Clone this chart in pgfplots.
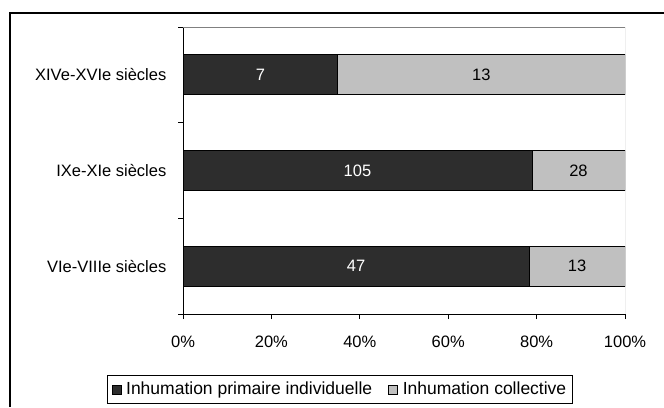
\documentclass[border=0pt]{standalone}
\usepackage{pgfplots}
\pgfplotsset{compat=1.18}
\usepackage{pgfplotstable}
\usepackage{fontspec}
\setmainfont{Liberation Sans}
\definecolor{dark}{RGB}{45,45,45}
\definecolor{lgray}{RGB}{192,192,192}
\pgfplotstableread{
y pct n
0 78.333 47
1 78.947 105
2 35 7
}\indiv
\pgfplotstableread{
y pct n
0 21.667 13
1 21.053 28
2 65 13
}\coll
\begin{document}
\fontsize{16.5}{19}\selectfont
\begin{tikzpicture}[x=1pt,y=1pt]
\useasboundingbox (0,0) rectangle (664,407);
\draw[line width=1.2pt] (10,0) -- (10,394) -- (664,394);
\begin{axis}[
  at={(183pt,93pt)}, anchor=south west,
  scale only axis, width=442pt, height=287pt,
  xbar stacked, bar width=40pt,
  xmin=0, xmax=100, ymin=-0.5, ymax=2.5,
  /pgf/number format/assume math mode=true,
  font=\fontsize{16.5}{19}\selectfont,
  axis x line*=bottom, axis y line*=left,
  axis line style={-, black, line width=0.8pt},
  xtick={0,20,...,100},
  xticklabel={\pgfmathprintnumber{\tick}\%},
  xticklabel style={yshift=-11pt},
  ytick={-0.5,0.5,1.5,2.5}, yticklabels={},
  extra y ticks={0,1,2},
  extra y tick labels={VIe-VIIIe siècles, IXe-XIe siècles, XIVe-XVIe siècles},
  extra y tick style={major tick length=0pt, yticklabel style={xshift=-11pt}},
  tick align=outside, major tick length=5pt,
  tick style={black, line width=0.8pt},
  legend style={at={(0.355,-0.2625)}, anchor=center, draw=black, line width=0.8pt,
    font=\fontsize{17.5}{20}\selectfont, inner xsep=4pt, inner ysep=4pt,
    /tikz/every odd column/.append style={column sep=3pt},
    /tikz/every even column/.append style={column sep=14pt}},
  legend columns=2,
  legend image code/.code={\draw[#1, draw=black, line width=0.6pt] (0pt,-4.5pt) rectangle (9pt,4.5pt);},
]
\draw[gray, line width=0.8pt] (rel axis cs:0,1) -- (rel axis cs:1,1) -- (rel axis cs:1,0);
\addplot[fill=dark, draw=black, line width=0.7pt,
  nodes near coords, point meta=explicit symbolic,
  every node near coord/.append style={anchor=center, text=white}]
  table[x=pct, y=y, meta=n] {\indiv};
\addplot[fill=lgray, draw=black, line width=0.7pt,
  nodes near coords, point meta=explicit symbolic,
  every node near coord/.append style={anchor=center, text=black}]
  table[x=pct, y=y, meta=n] {\coll};
\legend{Inhumation primaire individuelle, Inhumation collective}
\end{axis}
\end{tikzpicture}
\end{document}
